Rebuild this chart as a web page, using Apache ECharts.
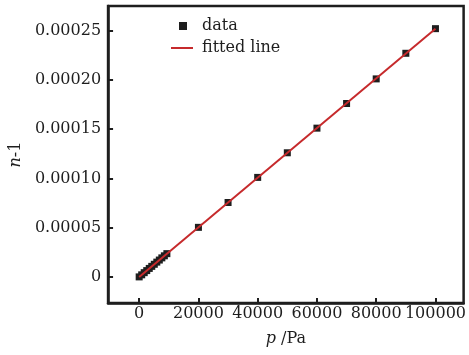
<!DOCTYPE html>
<html><head><meta charset="utf-8">
<script src="https://cdn.jsdelivr.net/npm/echarts@6/dist/echarts.min.js"></script>
<style>html,body{margin:0;padding:0;background:#fff}#c{width:469px;height:355px}</style>
</head><body><div id="c"></div>
<script>
const pressure = [0, 850, 1700, 2550, 3400, 4250, 5100, 5950, 6800, 7650, 8500, 9350,
  20000, 30000, 40000, 50000, 60000, 70000, 80000, 90000, 100000];
const nMinus1 = [0, 0.0000021, 0.0000043, 0.0000064, 0.0000086, 0.0000107, 0.0000128, 0.000015, 0.0000171, 0.0000193, 0.0000214, 0.0000236,
  0.0000503, 0.0000755, 0.000101, 0.000126, 0.000151, 0.000176, 0.000201, 0.000227, 0.000252];
const fitX = [0, 100000];
const fitY = [0, 0.000252];
const xTicks = [0, 20000, 40000, 60000, 80000, 100000];
const yTicks = [0, 0.00005, 0.0001, 0.00015, 0.0002, 0.00025];

const font = 'DejaVu Serif';
const ink = '#1e1e1e';
const chart = echarts.init(document.getElementById('c'));
chart.setOption({
  animation: false,
  grid: {left: 108, right: 5, top: 6, bottom: 52, show: true, borderColor: ink, borderWidth: 2.5, backgroundColor: 'transparent'},
  legend: [
    {data: [{name: 'data', icon: 'rect'}], left: 174, top: 13, itemWidth: 8, itemHeight: 8, orient: 'vertical',
      textStyle: {fontFamily: font, fontSize: 16, color: ink, padding: [0, 0, 0, 10]}},
    {data: [{name: 'fitted line', icon: 'rect'}], left: 166, top: 35, itemWidth: 22, itemHeight: 2, orient: 'vertical',
      textStyle: {fontFamily: font, fontSize: 16, color: ink, padding: [0, 0, 0, 4]}}
  ],
  xAxis: {
    type: 'value', min: -10500, max: 109500,
    name: '{i|p} /Pa', nameLocation: 'middle', nameGap: 28,
    nameTextStyle: {fontFamily: font, fontSize: 16, color: ink, rich: {i: {fontFamily: font, fontStyle: 'italic', fontSize: 16, color: ink}}},
    axisLine: {onZero: false, lineStyle: {color: ink, width: 2.5}},
    axisTick: {inside: true, length: 5, lineStyle: {color: ink, width: 2}, customValues: xTicks},
    axisLabel: {customValues: xTicks, fontFamily: font, fontSize: 16, color: ink, margin: 3, formatter: v => String(v)},
    splitLine: {show: false}
  },
  yAxis: {
    type: 'value', min: -0.0000265, max: 0.000275,
    name: '{i|n}-1', nameLocation: 'middle', nameGap: 78, nameRotate: 90,
    nameTextStyle: {fontFamily: font, fontSize: 16, color: ink, rich: {i: {fontFamily: font, fontStyle: 'italic', fontSize: 16, color: ink}}},
    axisLine: {onZero: false, lineStyle: {color: ink, width: 2.5}},
    axisTick: {inside: true, length: 5, lineStyle: {color: ink, width: 2}, customValues: yTicks},
    axisLabel: {customValues: yTicks, fontFamily: font, fontSize: 16, color: ink, margin: 7,
      formatter: v => v === 0 ? '0' : v.toFixed(5)},
    splitLine: {show: false}
  },
  series: [
    {name: 'data', type: 'scatter', symbol: 'rect', symbolSize: 7, itemStyle: {color: ink, opacity: 1},
      data: pressure.map((p, i) => [p, nMinus1[i]]), z: 2},
    {name: 'fitted line', type: 'line', symbol: 'none', lineStyle: {color: '#c62a2c', width: 2}, itemStyle: {color: '#c62a2c'},
      data: fitX.map((p, i) => [p, fitY[i]]), z: 3}
  ]
});
</script></body></html>
